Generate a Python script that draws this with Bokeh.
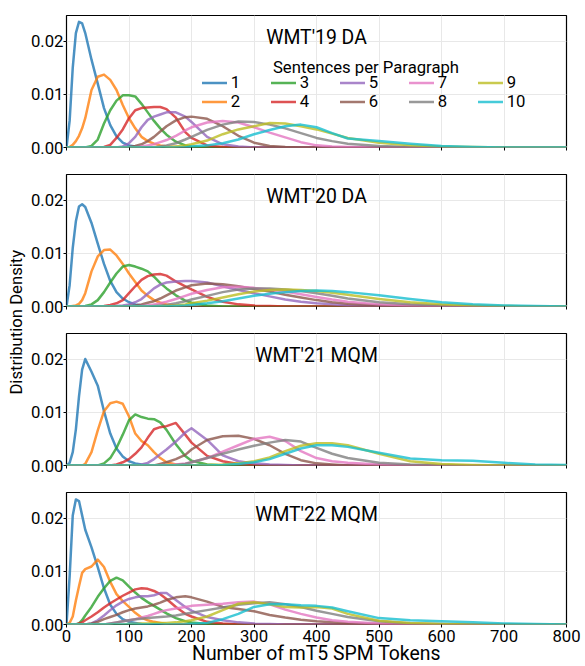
import math
from bokeh.plotting import figure
from bokeh.models import ColumnDataSource, Legend, LegendItem, Label, Range1d, PrintfTickFormatter
from bokeh.layouts import row, column
from bokeh.palettes import Category10_10
from bokeh.embed import file_html
from bokeh.resources import INLINE

# x positions (number of mT5 SPM tokens) at which densities were read
TOKENS = [0, 5, 10, 15, 20, 25, 30,
          40, 50, 60, 70, 80, 90, 100,
          110, 120, 130, 140, 150, 160, 175,
          190, 200, 225, 250, 275, 300, 325,
          350, 375, 400, 425, 450, 500, 550,
          600, 650, 700, 750, 800]

DENSITY_UNIT = 1e-4  # values below are densities x 10^4

# ---- WMT'19 DA ----
W19_1 = [0, 50, 150, 215, 236, 233, 215, 165, 120, 74, 42, 21, 9, 4, 2, 1, 0, 0, 0, 0, 0,
         0, 0, 0, 0, 0, 0, 0, 0, 0, 0, 0, 0, 0, 0, 0, 0, 0, 0, 0]
W19_2 = [0, 1, 5, 12, 22, 36, 55, 108, 133, 137, 127, 108, 80, 55, 36, 20, 12, 7, 4, 2, 1,
         0, 0, 0, 0, 0, 0, 0, 0, 0, 0, 0, 0, 0, 0, 0, 0, 0, 0, 0]
W19_3 = [0, 0, 0, 0, 0, 0, 0, 3, 15, 45, 70, 88, 98, 98, 96, 82, 66, 50, 36, 24, 11,
         4, 2, 0, 0, 0, 0, 0, 0, 0, 0, 0, 0, 0, 0, 0, 0, 0, 0, 0]
W19_4 = [0, 0, 0, 0, 0, 0, 0, 0, 0, 1, 5, 18, 34, 55, 70, 74, 75, 76, 76, 72, 56,
         29, 18, 4, 1, 0, 0, 0, 0, 0, 0, 0, 0, 0, 0, 0, 0, 0, 0, 0]
W19_5 = [0, 0, 0, 0, 0, 0, 0, 0, 0, 0, 0, 0, 2, 8, 20, 38, 52, 58, 62, 66, 66,
         58, 48, 20, 6, 2, 0, 0, 0, 0, 0, 0, 0, 0, 0, 0, 0, 0, 0, 0]
W19_6 = [0, 0, 0, 0, 0, 0, 0, 0, 0, 0, 0, 0, 0, 1, 3, 6, 12, 20, 30, 40, 51,
         57, 58, 54, 40, 22, 9, 3, 1, 0, 0, 0, 0, 0, 0, 0, 0, 0, 0, 0]
W19_7 = [0, 0, 0, 0, 0, 0, 0, 0, 0, 0, 0, 0, 0, 0, 0, 2, 4, 6, 10, 14, 22,
         32, 38, 47, 50, 47, 38, 28, 19, 10, 4, 2, 1, 0, 0, 0, 0, 0, 0, 0]
W19_8 = [0, 0, 0, 0, 0, 0, 0, 0, 0, 0, 0, 0, 0, 0, 0, 0, 0, 0, 2, 4, 8,
         15, 20, 33, 43, 49, 48, 43, 36, 27, 18, 12, 7, 3, 1, 0, 0, 0, 0, 0]
W19_9 = [0, 0, 0, 0, 0, 0, 0, 0, 0, 0, 0, 0, 0, 0, 0, 0, 0, 0, 0, 0, 2,
         4, 6, 13, 25, 34, 40, 46, 45, 40, 34, 26, 18, 9, 4, 2, 1, 0, 0, 0]
W19_10 = [0, 0, 0, 0, 0, 0, 0, 0, 0, 0, 0, 0, 0, 0, 0, 0, 0, 0, 0, 0, 0,
          0, 2, 4, 8, 15, 25, 33, 40, 43, 38, 27, 17, 12, 7, 3, 1, 0, 0, 0]

# ---- WMT'20 DA ----
W20_1 = [0, 40, 110, 160, 188, 192, 187, 157, 118, 80, 48, 27, 15, 8, 4, 2, 1, 0, 0, 0, 0,
         0, 0, 0, 0, 0, 0, 0, 0, 0, 0, 0, 0, 0, 0, 0, 0, 0, 0, 0]
W20_2 = [0, 0, 1, 2, 5, 12, 25, 66, 94, 106, 107, 96, 80, 62, 46, 30, 20, 12, 7, 4, 2,
         1, 0, 0, 0, 0, 0, 0, 0, 0, 0, 0, 0, 0, 0, 0, 0, 0, 0, 0]
W20_3 = [0, 0, 0, 0, 0, 0, 1, 4, 12, 27, 45, 62, 75, 78, 75, 71, 66, 56, 44, 34, 21,
         11, 7, 2, 0, 0, 0, 0, 0, 0, 0, 0, 0, 0, 0, 0, 0, 0, 0, 0]
W20_4 = [0, 0, 0, 0, 0, 0, 0, 0, 0, 1, 3, 6, 12, 25, 38, 50, 57, 60, 61, 58, 47,
         38, 32, 18, 9, 4, 2, 1, 0, 0, 0, 0, 0, 0, 0, 0, 0, 0, 0, 0]
W20_5 = [0, 0, 0, 0, 0, 0, 0, 0, 0, 0, 0, 1, 2, 4, 8, 14, 24, 34, 41, 45, 47,
         48, 48, 45, 38, 31, 25, 19, 13, 9, 6, 4, 2, 1, 0, 0, 0, 0, 0, 0]
W20_6 = [0, 0, 0, 0, 0, 0, 0, 0, 0, 0, 0, 0, 0, 1, 2, 4, 7, 10, 15, 21, 30,
         36, 40, 43, 42, 38, 33, 28, 22, 17, 12, 8, 5, 2, 1, 0, 0, 0, 0, 0]
W20_7 = [0, 0, 0, 0, 0, 0, 0, 0, 0, 0, 0, 0, 0, 0, 0, 1, 2, 4, 6, 9, 14,
         20, 24, 31, 36, 37, 35, 32, 28, 23, 18, 13, 9, 4, 2, 1, 0, 0, 0, 0]
W20_8 = [0, 0, 0, 0, 0, 0, 0, 0, 0, 0, 0, 0, 0, 0, 0, 0, 0, 1, 2, 3, 6,
         10, 13, 20, 27, 32, 34, 34, 32, 29, 25, 20, 15, 8, 4, 2, 1, 0, 0, 0]
W20_9 = [0, 0, 0, 0, 0, 0, 0, 0, 0, 0, 0, 0, 0, 0, 0, 0, 0, 0, 0, 1, 2,
         4, 6, 11, 17, 23, 28, 31, 32, 31, 29, 26, 22, 14, 8, 4, 2, 1, 0, 0]
W20_10 = [0, 0, 0, 0, 0, 0, 0, 0, 0, 0, 0, 0, 0, 0, 0, 0, 0, 0, 0, 0, 1,
          2, 3, 6, 10, 15, 20, 24, 27, 29, 30, 29, 27, 21, 14, 8, 4, 2, 1, 0]

# ---- WMT'21 MQM ----
W21_1 = [0, 5, 25, 68, 130, 180, 200, 176, 150, 102, 60, 32, 17, 8, 4, 2, 1, 0, 0, 0, 0,
         0, 0, 0, 0, 0, 0, 0, 0, 0, 0, 0, 0, 0, 0, 0, 0, 0, 0, 0]
W21_2 = [0, 0, 0, 0, 0, 0, 3, 25, 66, 102, 117, 120, 116, 92, 60, 46, 38, 25, 14, 6, 2,
         0, 0, 0, 0, 0, 0, 0, 0, 0, 0, 0, 0, 0, 0, 0, 0, 0, 0, 0]
W21_3 = [0, 0, 0, 0, 0, 0, 0, 0, 0, 4, 14, 33, 58, 85, 96, 91, 88, 87, 81, 67, 40,
         18, 9, 2, 0, 0, 0, 0, 0, 0, 0, 0, 0, 0, 0, 0, 0, 0, 0, 0]
W21_4 = [0, 0, 0, 0, 0, 0, 0, 0, 0, 0, 0, 2, 6, 12, 22, 34, 52, 68, 72, 74, 80,
         58, 43, 18, 8, 3, 1, 0, 0, 0, 0, 0, 0, 0, 0, 0, 0, 0, 0, 0]
W21_5 = [0, 0, 0, 0, 0, 0, 0, 0, 0, 0, 0, 0, 0, 0, 0, 2, 5, 12, 21, 30, 45,
         62, 70, 48, 19, 8, 4, 2, 1, 0, 0, 0, 0, 0, 0, 0, 0, 0, 0, 0]
W21_6 = [0, 0, 0, 0, 0, 0, 0, 0, 0, 0, 0, 0, 0, 0, 0, 0, 0, 0, 3, 6, 12,
         20, 30, 48, 55, 56, 50, 38, 22, 10, 4, 2, 0, 0, 0, 0, 0, 0, 0, 0]
W21_7 = [0, 0, 0, 0, 0, 0, 0, 0, 0, 0, 0, 0, 0, 0, 0, 0, 0, 0, 0, 0, 2,
         4, 6, 14, 26, 38, 50, 54, 46, 27, 14, 8, 5, 2, 0, 0, 0, 0, 0, 0]
W21_8 = [0, 0, 0, 0, 0, 0, 0, 0, 0, 0, 0, 0, 0, 0, 0, 0, 0, 0, 0, 0, 1,
         3, 6, 14, 22, 30, 37, 43, 48, 45, 33, 22, 14, 5, 2, 1, 0, 0, 0, 0]
W21_9 = [0, 0, 0, 0, 0, 0, 0, 0, 0, 0, 0, 0, 0, 0, 0, 0, 0, 0, 0, 0, 0,
         0, 0, 1, 2, 4, 8, 15, 27, 37, 42, 42, 38, 22, 8, 3, 1, 0, 0, 0]
W21_10 = [0, 0, 0, 0, 0, 0, 0, 0, 0, 0, 0, 0, 0, 0, 0, 0, 0, 0, 0, 0, 0,
          0, 0, 0, 1, 3, 6, 12, 22, 32, 38, 38, 35, 24, 13, 10, 9, 5, 2, 1]

# ---- WMT'22 MQM ----
W22_1 = [0, 90, 205, 235, 232, 205, 178, 145, 108, 68, 37, 20, 10, 5, 3, 1, 0, 0, 0, 0, 0,
         0, 0, 0, 0, 0, 0, 0, 0, 0, 0, 0, 0, 0, 0, 0, 0, 0, 0, 0]
W22_2 = [0, 3, 15, 45, 72, 97, 104, 109, 122, 108, 80, 57, 44, 33, 22, 13, 8, 5, 3, 1, 0,
         0, 0, 0, 0, 0, 0, 0, 0, 0, 0, 0, 0, 0, 0, 0, 0, 0, 0, 0]
W22_3 = [0, 0, 0, 0, 2, 8, 17, 33, 52, 68, 82, 88, 83, 71, 60, 50, 42, 35, 28, 21, 12,
         6, 4, 1, 0, 0, 0, 0, 0, 0, 0, 0, 0, 0, 0, 0, 0, 0, 0, 0]
W22_4 = [0, 0, 0, 0, 2, 4, 8, 15, 23, 32, 40, 47, 54, 60, 66, 68, 67, 63, 57, 48, 33,
         20, 15, 5, 2, 0, 0, 0, 0, 0, 0, 0, 0, 0, 0, 0, 0, 0, 0, 0]
W22_5 = [0, 0, 0, 0, 0, 0, 0, 2, 8, 17, 27, 36, 43, 48, 51, 53, 53, 55, 59, 59, 46,
         33, 26, 14, 8, 4, 2, 1, 0, 0, 0, 0, 0, 0, 0, 0, 0, 0, 0, 0]
W22_6 = [0, 0, 0, 0, 0, 0, 0, 2, 5, 10, 14, 18, 23, 27, 30, 32, 34, 37, 41, 46, 51,
         53, 51, 43, 33, 29, 25, 18, 13, 9, 6, 4, 2, 1, 0, 0, 0, 0, 0, 0]
W22_7 = [0, 0, 0, 0, 0, 0, 0, 0, 0, 0, 2, 4, 6, 8, 10, 13, 16, 20, 24, 27, 30,
         33, 35, 37, 39, 42, 43, 38, 28, 20, 13, 8, 5, 2, 1, 0, 0, 0, 0, 0]
W22_8 = [0, 0, 0, 0, 0, 0, 0, 0, 0, 0, 2, 4, 6, 8, 10, 11, 12, 13, 14, 15, 17,
         20, 22, 27, 32, 37, 40, 42, 38, 33, 26, 20, 14, 6, 2, 1, 0, 0, 0, 0]
W22_9 = [0, 0, 0, 0, 0, 0, 0, 0, 0, 0, 0, 0, 0, 1, 1, 2, 2, 3, 3, 3, 4,
         6, 8, 15, 27, 39, 42, 38, 33, 32, 33, 30, 20, 7, 3, 1, 0, 0, 0, 0]
W22_10 = [0, 0, 0, 0, 0, 0, 0, 0, 0, 0, 0, 0, 0, 0, 0, 0, 0, 0, 0, 0, 0,
          0, 1, 3, 10, 20, 33, 38, 38, 36, 35, 32, 25, 12, 8, 6, 4, 2, 1, 0]

PANEL_TITLES = ["WMT'19 DA", "WMT'20 DA", "WMT'21 MQM", "WMT'22 MQM"]
PANEL_SERIES = [
    [W19_1, W19_2, W19_3, W19_4, W19_5, W19_6, W19_7, W19_8, W19_9, W19_10],
    [W20_1, W20_2, W20_3, W20_4, W20_5, W20_6, W20_7, W20_8, W20_9, W20_10],
    [W21_1, W21_2, W21_3, W21_4, W21_5, W21_6, W21_7, W21_8, W21_9, W21_10],
    [W22_1, W22_2, W22_3, W22_4, W22_5, W22_6, W22_7, W22_8, W22_9, W22_10],
]
SENTENCES = ["1", "2", "3", "4", "5", "6", "7", "8", "9", "10"]
X_TICKS = [0, 100, 200, 300, 400, 500, 600, 700, 800]
Y_TICKS = [0.0, 0.01, 0.02]
X_RANGE = (0, 800)
Y_RANGE = (0, 0.0248)

LEGEND_TITLE = "Sentences per Paragraph"
X_LABEL = "Number of mT5 SPM Tokens"
Y_LABEL = "Distribution Density"

COLORS = list(Category10_10)
FONT = "Roboto"
TICK_SIZE = "16.7px"
TITLE_SIZE = "19.4px"

FRAME_W, FRAME_H = 500, 132
LEFT, RIGHT = 40, 16
STRIP_W = 26


def make_panel(idx, top, bottom, last):
    p = figure(frame_width=FRAME_W, frame_height=FRAME_H,
               x_range=Range1d(*X_RANGE), y_range=Range1d(*Y_RANGE),
               toolbar_location=None, output_backend="svg",
               min_border_left=LEFT, min_border_right=RIGHT,
               min_border_top=top, min_border_bottom=bottom)
    p.outline_line_color = "black"
    p.outline_line_width = 1.2
    p.background_fill_color = "white"
    p.border_fill_color = "white"

    for ax in (p.xaxis[0], p.yaxis[0]):
        ax.axis_line_color = None
        ax.major_tick_in = 0
        ax.major_tick_out = 3
        ax.major_tick_line_color = "black"
        ax.major_tick_line_width = 1
        ax.minor_tick_line_color = None
        ax.major_label_text_font = FONT
        ax.major_label_text_font_size = TICK_SIZE
        ax.major_label_text_color = "black"

    p.xaxis.ticker = X_TICKS
    p.yaxis.ticker = Y_TICKS
    p.yaxis.formatter = PrintfTickFormatter(format="%.2f")
    p.yaxis.major_label_standoff = 0
    p.xaxis.major_label_standoff = 2
    if not last:
        p.xaxis.major_label_overrides = {t: "" for t in X_TICKS}
        p.xaxis.major_label_text_font_size = "0px"
    else:
        p.xaxis.axis_label = X_LABEL
        p.xaxis.axis_label_text_font = FONT
        p.xaxis.axis_label_text_font_size = TITLE_SIZE
        p.xaxis.axis_label_text_font_style = "normal"
        p.xaxis.axis_label_text_color = "black"
        p.xaxis.axis_label_standoff = -3

    p.grid.grid_line_color = "#e8e8e8"
    p.grid.grid_line_width = 1

    renderers = []
    for i, ys in enumerate(PANEL_SERIES[idx]):
        src = ColumnDataSource(dict(x=TOKENS, y=[v * DENSITY_UNIT for v in ys]))
        r = p.line("x", "y", source=src, line_color=COLORS[i], line_width=2.5,
                   line_alpha=0.8, line_join="round", line_cap="round")
        renderers.append(r)

    p.add_layout(Label(x=(X_RANGE[0] + X_RANGE[1]) / 2, x_units="data",
                       y=FRAME_H - 21.5, y_units="screen",
                       text=PANEL_TITLES[idx], text_align="center",
                       text_baseline="alphabetic", text_font=FONT,
                       text_font_size=TITLE_SIZE, text_color="black"))

    if idx == 0:
        items = [LegendItem(label=s, renderers=[r]) for s, r in zip(SENTENCES, renderers)]
        legend = Legend(items=items, orientation="vertical", nrows=2,
                        location=(135.7, 36.5), padding=0, margin=0, spacing=-1,
                        glyph_width=25, glyph_height=19, label_standoff=4,
                        label_width=40, label_height=19,
                        label_text_font=FONT, label_text_font_size=TICK_SIZE,
                        label_text_color="black",
                        border_line_alpha=0, background_fill_alpha=0)
        p.add_layout(legend)
        p.add_layout(Label(x=299.5, y=80, x_units="screen", y_units="screen",
                           text=LEGEND_TITLE, text_align="center",
                           text_baseline="alphabetic", text_font=FONT,
                           text_font_size=TICK_SIZE, text_color="black"))
    return p


panels = [
    make_panel(0, 15, 13, False),
    make_panel(1, 14, 13, False),
    make_panel(2, 14, 13, False),
    make_panel(3, 14, 42, True),
]
TOTAL_H = 15 + 13 + 2 * (14 + 13) + 14 + 42 + 4 * FRAME_H

strip = figure(width=STRIP_W, height=TOTAL_H, x_range=Range1d(0, 1), y_range=Range1d(0, 1),
               toolbar_location=None, output_backend="svg",
               min_border_left=0, min_border_right=0, min_border_top=0, min_border_bottom=0,
               x_axis_type=None, y_axis_type=None)
strip.outline_line_color = None
strip.grid.visible = False
strip.border_fill_color = "white"
strip.background_fill_color = "white"
strip.add_layout(Label(x=16, y=TOTAL_H - 321.7, x_units="screen", y_units="screen",
                       text=Y_LABEL, angle=math.pi / 2, text_align="center",
                       text_baseline="alphabetic", text_font=FONT,
                       text_font_size=TICK_SIZE, text_color="black"))

layout = row(strip, column(*panels, spacing=0), spacing=0)
open("out.html", "w").write(file_html(layout, INLINE))
